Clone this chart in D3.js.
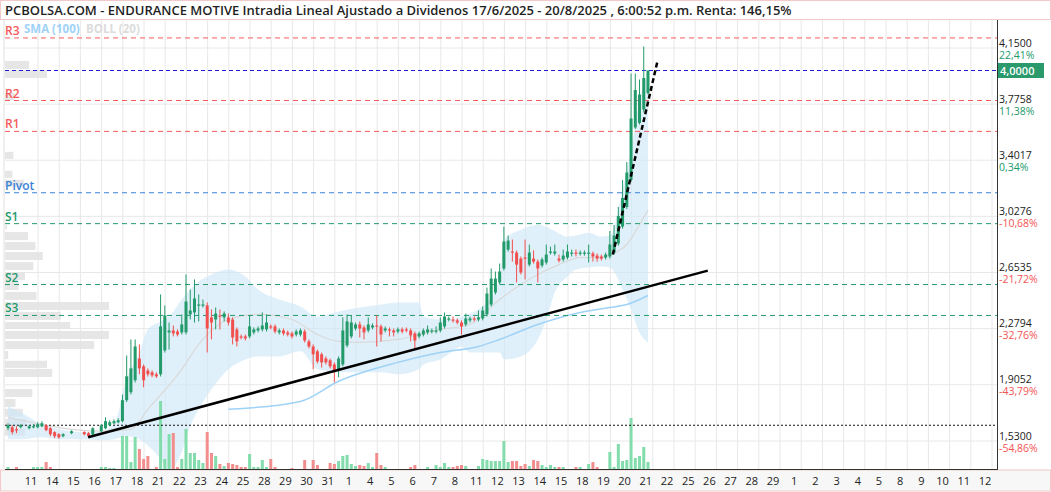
<!DOCTYPE html>
<html>
<head>
<meta charset="utf-8">
<script src="https://cdn.jsdelivr.net/npm/d3@7"></script>
<style>
  body { margin: 0; background: #fff; }
  svg { display: block; font-family: "Open Sans", "Noto Sans", sans-serif; }
</style>
</head>
<body>
<svg id="chart" width="1051" height="492"></svg>
<script>
// title
const title = "PCBOLSA.COM - ENDURANCE MOTIVE Intradia Lineal Ajustado a Dividenos 17/6/2025 - 20/8/2025 , 6:00:52 p.m. Renta: 146,15%";

// intraday candles [open, high, low, close], null = no trade
const candles = [
  [1.615,1.648,1.602,1.635],[1.622,1.635,1.575,1.589],[1.608,1.628,1.582,1.605],[1.622,1.642,1.615,1.635],null,
  [1.615,1.635,1.608,1.628],[1.622,1.642,1.615,1.628],[1.622,1.655,1.615,1.642],[1.628,1.662,1.622,1.648],[1.635,1.642,1.595,1.602],
  [1.615,1.622,1.562,1.575],[1.589,1.595,1.549,1.562],[1.575,1.582,1.545,1.555],[1.562,1.582,1.555,1.575],null,
  [1.582,1.602,1.575,1.595],null,null,[1.589,1.595,1.568,1.575],[1.582,1.589,1.555,1.562],
  [1.575,1.622,1.568,1.615],null,[1.595,1.642,1.589,1.635],[1.615,1.688,1.608,1.662],[1.635,1.668,1.628,1.655],
  [1.648,1.675,1.642,1.662],[1.655,1.682,1.648,1.668],[1.662,1.84,1.655,1.802],[1.802,2.10,1.79,1.961],[1.855,2.207,1.84,2.014],
  [1.935,2.207,1.92,2.16],[2.08,2.174,1.975,2.014],[2.028,2.04,1.888,1.935],[2.00,2.014,1.96,1.975],[1.988,2.00,1.955,1.968],
  [1.975,1.988,1.95,1.961],[1.975,2.507,1.96,2.294],[2.134,2.434,2.12,2.367],[2.254,2.32,2.14,2.267],[2.267,2.30,2.227,2.247],
  [2.26,2.274,2.227,2.24],[2.254,2.374,2.24,2.307],[2.254,2.64,2.24,2.46],[2.374,2.54,2.34,2.40],[2.387,2.607,2.32,2.48],
  [2.44,2.507,2.327,2.44],[2.44,2.473,2.42,2.44],[2.434,2.454,2.12,2.28],[2.354,2.407,2.207,2.32],[2.34,2.42,2.274,2.38],
  [2.367,2.407,2.274,2.36],[2.354,2.394,2.327,2.38],[2.354,2.38,2.30,2.32],[2.34,2.354,2.174,2.22],[2.274,2.287,2.16,2.194],
  [2.227,2.24,2.207,2.22],[2.227,2.24,2.20,2.214],[2.227,2.367,2.214,2.294],[2.254,2.287,2.24,2.274],[2.267,2.294,2.254,2.28],
  [2.274,2.387,2.26,2.30],[2.274,2.374,2.26,2.32],[2.294,2.307,2.274,2.287],[2.294,2.307,2.247,2.26],[2.254,2.28,2.24,2.267],
  [2.267,2.28,2.234,2.247],[2.254,2.267,2.227,2.24],[2.247,2.26,2.214,2.227],[2.24,2.274,2.227,2.26],[2.24,2.28,2.227,2.267],
  [2.26,2.274,2.187,2.20],[2.194,2.207,2.147,2.16],[2.16,2.174,2.008,2.108],[2.128,2.14,2.047,2.06],[2.108,2.12,2.02,2.054],
  [2.08,2.094,2.04,2.054],[2.068,2.08,2.014,2.028],[2.04,2.054,1.921,1.994],[2.008,2.094,1.955,2.08],[2.04,2.354,2.028,2.267],
  [2.167,2.374,2.154,2.327],[2.227,2.367,2.214,2.32],[2.28,2.32,2.267,2.307],[2.307,2.327,2.22,2.28],[2.287,2.30,2.207,2.254],
  [2.267,2.354,2.254,2.307],[2.287,2.314,2.274,2.30],[2.30,2.367,2.16,2.294],[2.294,2.307,2.194,2.24],[2.267,2.294,2.254,2.28],
  [2.274,2.287,2.227,2.267],[2.267,2.28,2.227,2.254],[2.26,2.287,2.247,2.274],[2.274,2.287,2.247,2.26],[2.274,2.287,2.254,2.267],
  [2.267,2.28,2.194,2.234],[2.247,2.26,2.147,2.20],[2.227,2.26,2.214,2.247],[2.24,2.28,2.227,2.267],[2.254,2.30,2.24,2.274],
  [2.26,2.28,2.247,2.267],[2.26,2.294,2.247,2.267],[2.267,2.354,2.254,2.32],[2.294,2.387,2.28,2.36],[2.34,2.36,2.327,2.347],
  [2.34,2.36,2.32,2.334],[2.334,2.347,2.307,2.32],[2.32,2.334,2.24,2.294],[2.307,2.38,2.294,2.347],[2.334,2.36,2.32,2.347],
  [2.347,2.36,2.327,2.34],[2.34,2.40,2.327,2.354],[2.347,2.427,2.334,2.40],[2.374,2.553,2.36,2.513],[2.44,2.68,2.427,2.613],
  [2.52,2.66,2.507,2.613],[2.587,2.713,2.573,2.66],[2.68,2.96,2.667,2.86],[2.806,2.90,2.793,2.866],[2.793,2.873,2.726,2.786],
  [2.786,2.80,2.587,2.706],[2.746,2.76,2.64,2.653],[2.753,2.873,2.607,2.75],[2.706,2.84,2.693,2.786],[2.746,2.80,2.713,2.726],
  [2.726,2.74,2.587,2.68],[2.70,2.753,2.687,2.74],[2.72,2.84,2.706,2.773],[2.786,2.826,2.773,2.793],[2.78,2.84,2.766,2.793],
  [2.746,2.773,2.72,2.733],[2.74,2.806,2.726,2.766],[2.753,2.84,2.74,2.793],[2.78,2.806,2.76,2.786],[2.786,2.806,2.76,2.78],
  [2.78,2.80,2.766,2.786],[2.78,2.80,2.766,2.786],[2.78,2.84,2.72,2.786],[2.78,2.793,2.726,2.76],[2.766,2.78,2.726,2.746],
  [2.76,2.773,2.733,2.746],[2.753,2.786,2.74,2.773],[2.76,2.93,2.746,2.84],[2.786,2.97,2.773,2.90],[2.846,3.09,2.833,3.03],
  [2.96,3.27,2.946,3.15],[3.09,3.39,3.076,3.32],[3.27,3.98,3.257,3.68],[3.62,3.98,3.61,3.87],[3.65,3.94,3.64,3.84],
  [3.74,4.16,3.72,3.95],[3.85,4.00,3.84,4.00]
];

// volume per candle (thousands)
const volumes = [
  2,0,2,0,0, 0,2,2,2,7, 2,0,0,0,0, 0,0,0,0,0, 0,0,2,2,1, 1,0,33,33,7,
  32,20,10,13,0, 2,68,10,35,36, 2,10,40,16,16, 9,6,37,16,13, 5,3,6,5,4, 2,2,15,2,2,
  9,2,10,2,0, 0,0,1,0,0, 9,0,9,4,0, 0,6,5,8,13, 14,5,3,4,3, 6,2,16,4,2,
  0,0,0,0,0, 2,4,0,0,2, 0,4,2,6,2, 2,3,4,3,0, 0,3,10,9,8, 8,8,28,7,8,
  8,3,5,3,9, 8,4,2,4,2, 2,2,0,0,2, 2,0,5,7,2, 0,0,17,2,25, 8,9,51,11,13, 22,7
];

// bollinger (20) band: [candle index, upper, lower]
const bollBand = [
  [0,1.762,1.542],[3,1.722,1.542],[8,1.642,1.555],[12,1.608,1.542],[18,1.589,1.542],[22,1.595,1.535],
  [25,1.642,1.542],[28,1.941,1.562],[31,2.12,1.542],[33,2.274,1.50],[36,2.327,1.409],[38,2.36,1.33],
  [41,2.473,1.456],[43,2.54,1.628],[45,2.593,1.741],[48,2.64,1.874],[52,2.673,2.008],[56,2.626,2.074],
  [59,2.54,2.094],[64,2.473,2.094],[69,2.427,2.128],[73,2.36,2.008],[78,2.394,1.988],[83,2.42,1.988],
  [88,2.44,1.988],[92,2.454,1.975],[97,2.454,2.008],[98,2.36,2.04],[102,2.34,2.074],[105,2.34,2.128],
  [107,2.36,2.16],[109,2.38,2.12],[111,2.407,2.12],[116,2.607,2.12],[117,2.872,2.074],[121,2.939,2.094],
  [125,2.972,2.207],[127,2.959,2.34],[129,2.93,2.52],[132,2.893,2.626],[134,2.90,2.673],[137,2.919,2.686],
  [140,2.893,2.693],[142,2.90,2.686],[145,3.205,2.54],[147,3.471,2.407],[149,3.804,2.254],[151,3.97,2.187]
];
// bollinger middle line: [candle index, price]
const bollMid = [
  [0,1.688],[22,1.595],[29,1.608],[33,1.741],[41,2.008],[45,2.174],[52,2.34],[59,2.374],[67,2.34],
  [73,2.24],[78,2.194],[83,2.187],[92,2.207],[102,2.274],[109,2.307],[116,2.473],[121,2.573],[125,2.64],
  [130,2.706],[135,2.753],[140,2.753],[142,2.773],[146,2.84],[149,2.972],[151,3.07]
];
// SMA (100): [candle index, price]
const sma100 = [
  [52,1.741],[69,1.794],[78,1.928],[92,2.054],[102,2.12],[111,2.16],[116,2.207],[125,2.307],
  [135,2.387],[142,2.42],[146,2.44],[151,2.50]
];

// drawn trend lines: [candle index, price]
const trendLine = [[18.9,1.555],[165.1,2.666]];
const spikeLine = [[142.7,2.773],[153.3,4.07]];

// volume profile: [bottom price, top price, volume]
const profileBins = [
  [4.007,4.067,23],[3.947,4.007,40],[3.800,3.854,9],[3.407,3.461,8],[3.281,3.335,7],[3.221,3.275,18],
  [2.939,2.972,2],[2.866,2.926,22],[2.800,2.860,29],[2.733,2.793,36],[2.666,2.726,27],[2.600,2.660,19],
  [2.533,2.593,13],[2.467,2.527,30],[2.400,2.460,99],[2.334,2.394,53],[2.274,2.327,62],[2.207,2.267,99],
  [2.140,2.200,85],[2.074,2.134,3],[2.014,2.068,40],[1.954,2.014,45],[1.820,1.880,26],[1.754,1.814,10],
  [1.688,1.748,17],[1.622,1.682,20],[1.562,1.616,19]
];

// pivot levels
const pivots = [
  {name: "R3", price: 4.217, color: "#f55b5b"},
  {name: "R2", price: 3.800, color: "#f55b5b"},
  {name: "R1", price: 3.594, color: "#f55b5b"},
  {name: "Pivot", price: 3.185, color: "#3a82d8"},
  {name: "S1", price: 2.979, color: "#22996b"},
  {name: "S2", price: 2.573, color: "#22996b"},
  {name: "S3", price: 2.367, color: "#22996b"}
];
const lastPrice = 4.0;
const refLine = 1.635;

// right axis ticks
const priceTicks = [4.15, 3.7758, 3.4017, 3.0276, 2.6535, 2.2794, 1.9052, 1.53];
const priceLabels = ["4,1500","3,7758","3,4017","3,0276","2,6535","2,2794","1,9052","1,5300"];
const pctLabels = ["22,41%","11,38%","0,34%","-10,68%","-21,72%","-32,76%","-43,79%","-54,86%"];

// bottom axis day labels
const dayLabels = ["11","14","15","16","17","18","21","22","23","24","25","28","29","30","31","1",
  "4","5","6","7","8","11","12","13","14","15","18","19","20","21",
  "22","25","26","27","28","29","1","2","3","4","5","8","9","10","11","12"];

const svg = d3.select("#chart");
const pLeft = 5, pRight = 997, pTop = 20, pBottom = 469;

const x = d3.scaleLinear().domain([0, 151]).range([8, 648]);
const y = d3.scaleLinear().domain([1.53, 4.15]).range([441, 48]);
const dayX = d3.scaleLinear().domain([0, dayLabels.length - 1]).range([31, 985]);
const vy = d3.scaleLinear().domain([0, 51]).range([pBottom, 418]);
const profX = d3.scaleLinear().domain([0, 100]).range([pLeft, pLeft + 105]);

const green = "#229a69", red = "#f24e4e";

// title bar
svg.append("rect").attr("x", 0.5).attr("y", 0.5).attr("width", 1050).attr("height", 19)
  .attr("fill", "#fff").attr("stroke", "#f2c8c8");
svg.append("text").attr("x", 5).attr("y", 15).attr("font-size", 13).attr("font-weight", 600)
  .attr("fill", "#1f1f1f").text(title);

// bottom axis strip
svg.append("rect").attr("x", 0.5).attr("y", pBottom + 1).attr("width", 1050).attr("height", 21)
  .attr("fill", "#f7f7f7").attr("stroke", "#f2c8c8");

svg.append("defs").append("clipPath").attr("id", "plot")
  .append("rect").attr("x", pLeft).attr("y", pTop).attr("width", pRight - pLeft).attr("height", pBottom - pTop);

const plot = svg.append("g").attr("clip-path", "url(#plot)");

// grid
plot.selectAll(".hg").data(priceTicks).join("line")
  .attr("x1", pLeft).attr("x2", pRight).attr("y1", d => y(d)).attr("y2", d => y(d))
  .attr("stroke", "#e8e8e8");
plot.selectAll(".vg").data(d3.range(0, dayLabels.length)).join("line")
  .attr("x1", d => dayX(d) + 7).attr("x2", d => dayX(d) + 7).attr("y1", pTop).attr("y2", pBottom)
  .attr("stroke", "#e8e8e8");

// volume profile
plot.selectAll(".vp").data(profileBins).join("rect")
  .attr("x", pLeft).attr("y", d => y(d[1]) + 0.5)
  .attr("width", d => profX(d[2]) - pLeft).attr("height", d => y(d[0]) - y(d[1]) - 1)
  .attr("fill", "#e3e3e3").attr("opacity", 0.9);

// bollinger band
plot.append("path").datum(bollBand)
  .attr("d", d3.area().curve(d3.curveMonotoneX).x(d => x(d[0])).y0(d => y(d[2])).y1(d => y(d[1])))
  .attr("fill", "#cfe8f8").attr("opacity", 0.65);
plot.append("path").datum(bollMid)
  .attr("d", d3.line().curve(d3.curveMonotoneX).x(d => x(d[0])).y(d => y(d[1])))
  .attr("fill", "none").attr("stroke", "#d9d9d9").attr("stroke-width", 1.2);
plot.append("path").datum(sma100)
  .attr("d", d3.line().curve(d3.curveMonotoneX).x(d => x(d[0])).y(d => y(d[1])))
  .attr("fill", "none").attr("stroke", "#9fd2f7").attr("stroke-width", 1.5);

// volume bars
const volData = volumes.map((v, i) => ({i, v, up: candles[i] ? candles[i][3] >= candles[i][0] : true}));
plot.selectAll(".vol").data(volData.filter(d => d.v > 0)).join("rect")
  .attr("x", d => x(d.i) - 1.5).attr("width", 3)
  .attr("y", d => vy(d.v)).attr("height", d => pBottom - vy(d.v))
  .attr("fill", d => d.up ? "#82dcab" : "#f38e8e");

// pivot lines
plot.selectAll(".pv").data(pivots).join("line")
  .attr("x1", pLeft).attr("x2", pRight).attr("y1", d => y(d.price)).attr("y2", d => y(d.price))
  .attr("stroke", d => d.color).attr("stroke-dasharray", "5,4");
svg.selectAll(".pvt").data(pivots).join("text")
  .attr("x", 5).attr("y", d => y(d.price) - 3).attr("font-size", 12).attr("font-weight", 600)
  .attr("fill", d => d.color).text(d => d.name);

// last price + reference lines
plot.append("line").attr("x1", pLeft).attr("x2", pRight).attr("y1", y(lastPrice)).attr("y2", y(lastPrice))
  .attr("stroke", "#1d1ddb").attr("stroke-dasharray", "4,3");
plot.append("line").attr("x1", pLeft).attr("x2", pRight).attr("y1", y(refLine)).attr("y2", y(refLine))
  .attr("stroke", "#111").attr("stroke-dasharray", "2,2");

// candles
const cd = candles.map((c, i) => c && {i, o: c[0], h: c[1], l: c[2], c: c[3]}).filter(Boolean);
const cg = plot.selectAll(".candle").data(cd).join("g");
cg.append("line").attr("x1", d => x(d.i)).attr("x2", d => x(d.i))
  .attr("y1", d => y(d.h)).attr("y2", d => y(d.l))
  .attr("stroke", d => d.c >= d.o ? green : red).attr("stroke-width", 1);
cg.append("rect").attr("x", d => x(d.i) - 1.5).attr("width", 3)
  .attr("y", d => y(Math.max(d.o, d.c)))
  .attr("height", d => Math.max(1.2, Math.abs(y(d.o) - y(d.c))))
  .attr("fill", d => d.c >= d.o ? green : red);

// trend lines
const tl = d3.line().x(d => x(d[0])).y(d => y(d[1]));
plot.append("path").datum(trendLine).attr("d", tl).attr("stroke", "#000").attr("stroke-width", 2.5).attr("fill", "none");
plot.append("path").datum(spikeLine).attr("d", tl).attr("stroke", "#000").attr("stroke-width", 2.5)
  .attr("stroke-dasharray", "5,3").attr("fill", "none");

// legend
svg.append("text").attr("x", 24).attr("y", 33).attr("font-size", 11.5).attr("font-weight", 700)
  .attr("fill", "#9fd2f7").text("SMA (100)");
svg.append("text").attr("x", 86).attr("y", 33).attr("font-size", 11.5).attr("font-weight", 700)
  .attr("fill", "#dcdcdc").text("BOLL (20)");

// frame
svg.append("line").attr("x1", pRight + 0.5).attr("x2", pRight + 0.5).attr("y1", pTop).attr("y2", pBottom + 1).attr("stroke", "#333");
svg.append("line").attr("x1", pLeft).attr("x2", pRight + 0.5).attr("y1", pBottom + 0.5).attr("y2", pBottom + 0.5).attr("stroke", "#333");
svg.append("line").attr("x1", pLeft - 1).attr("x2", pLeft - 1).attr("y1", pTop).attr("y2", pBottom).attr("stroke", "#e0e0e0");

// right axis
const ra = svg.append("g");
ra.selectAll(".pl").data(priceTicks).join("text")
  .attr("x", 999).attr("y", d => y(d) - 1.5).attr("font-size", 10.5).attr("fill", "#222")
  .text((d, i) => priceLabels[i]);
ra.selectAll(".pc").data(priceTicks).join("text")
  .attr("x", 999).attr("y", d => y(d) + 10.5).attr("font-size", 10.5)
  .attr("fill", (d, i) => pctLabels[i].startsWith("-") ? "#f25454" : "#22996b")
  .text((d, i) => pctLabels[i]);
ra.append("rect").attr("x", 998).attr("y", y(lastPrice) - 7.5).attr("width", 46).attr("height", 15).attr("fill", "#2a9a6c");
ra.append("text").attr("x", 1000).attr("y", y(lastPrice) + 4).attr("font-size", 11).attr("font-weight", 600)
  .attr("fill", "#fff").text("4,0000");

// bottom axis
svg.selectAll(".dl").data(dayLabels).join("text")
  .attr("x", (d, i) => dayX(i)).attr("y", 485).attr("text-anchor", "middle")
  .attr("font-size", 11).attr("fill", "#222").text(d => d);
</script>
</body>
</html>
